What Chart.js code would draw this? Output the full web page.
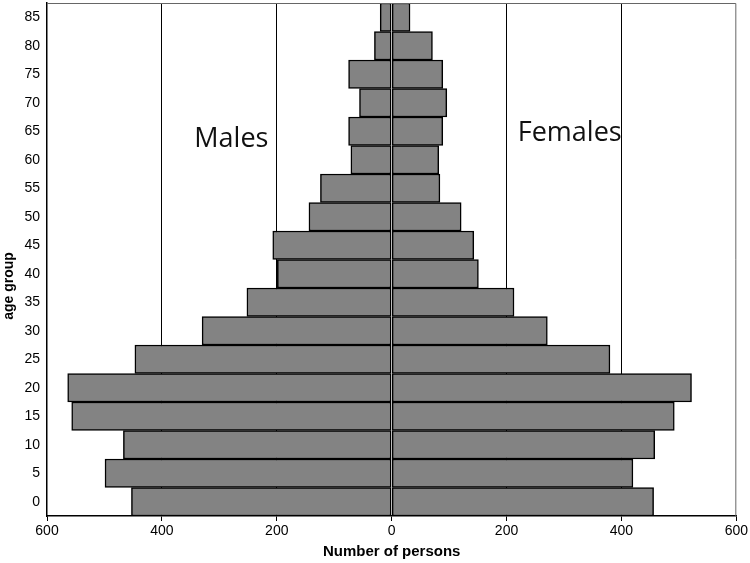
<!DOCTYPE html>
<html><head><meta charset="utf-8">
<script src="https://cdn.jsdelivr.net/npm/chart.js@4/dist/chart.umd.min.js"></script>
<style>html,body{margin:0;padding:0;background:#fff}#wrap{width:750px;height:563px;position:relative}</style>
</head><body><div id="wrap"><canvas id="c"></canvas></div>
<script>
const ageGroups = ['0','5','10','15','20','25','30','35','40','45','50','55','60','65','70','75','80','85'];
const males   = [453,499,467,557,564,447,330,252,199,207,144,124,71,75,56,75,30,20];
const females = [456,420,458,492,522,380,271,213,151,143,121,84,82,89,96,89,71,32];
const xTickValues = [-600,-400,-200,0,200,400,600];
const sideLabels = [{text:'Males', value:-279, dy:15.5},{text:'Females', value:310, dy:10}];
const yTitle = 'age group';
const xTitle = 'Number of persons';

const tickFont = {family:'"Liberation Sans", Arial, sans-serif', size:14};
const barStyle = {backgroundColor:'#838383', borderColor:'#000', borderWidth:1.5, borderSkipped:false, barPercentage:1, categoryPercentage:1};

const decor = {
  id:'decor',
  afterDatasetsDraw(chart){
    const {ctx, chartArea:a, scales:{x,y}} = chart;
    ctx.save();
    ctx.strokeStyle = '#666'; ctx.lineWidth = 1;
    ctx.beginPath();
    ctx.moveTo(a.left, a.top+0.5); ctx.lineTo(a.right-0.5, a.top+0.5); ctx.lineTo(a.right-0.5, a.bottom);
    ctx.stroke();
    ctx.fillStyle = '#111';
    ctx.font = '27px "Open Sans", sans-serif';
    ctx.textAlign = 'center'; ctx.textBaseline = 'alphabetic';
    const yc = y.getPixelForValue(ageGroups.indexOf('65'));
    sideLabels.forEach(l => ctx.fillText(l.text, x.getPixelForValue(l.value), yc + l.dy));
    ctx.font = 'bold 14px "Liberation Sans", Arial, sans-serif';
    ctx.translate(9, 286); ctx.rotate(-Math.PI/2);
    ctx.textBaseline = 'middle';
    ctx.fillStyle = '#000';
    ctx.fillText(yTitle, 0, 0);
    ctx.restore();
  }
};

new Chart(document.getElementById('c'), {
  type:'bar',
  data:{
    labels: ageGroups,
    datasets:[
      Object.assign({label:'Males', data: males.map(v => -v)}, barStyle),
      Object.assign({label:'Females', data: females}, barStyle)
    ]
  },
  options:{
    indexAxis:'y',
    responsive:true, maintainAspectRatio:false, animation:false,
    layout:{padding:{top:3, right:13, left:0, bottom:0}},
    plugins:{legend:{display:false}, tooltip:{enabled:false}, colors:{enabled:false}},
    scales:{
      x:{
        stacked:true, min:-600, max:600,
        afterBuildTicks(s){ s.ticks = xTickValues.map(v => ({value:v})); },
        afterFit(s){ s.height = 47; },
        ticks:{callback:v => Math.abs(v), color:'#000', font:tickFont, padding:2, maxRotation:0},
        grid:{
          color: c => (c.tick && [200,400].includes(Math.abs(c.tick.value))) ? '#000' : 'rgba(0,0,0,0)',
          tickColor:'#000', tickLength:5, lineWidth:1
        },
        border:{display:true, color:'#000', width:1.5},
        title:{display:true, text:xTitle, color:'#000', font:{family:'"Liberation Sans", Arial, sans-serif', size:15, weight:'bold'}, padding:{top:0,bottom:2}}
      },
      y:{
        stacked:true, reverse:true,
        afterFit(s){ s.width = 47; s.paddingTop = 0; s.paddingBottom = 0; },
        ticks:{color:'#000', font:tickFont, padding:7},
        grid:{display:false, drawTicks:false},
        border:{display:true, color:'#000', width:1.5}
      }
    }
  },
  plugins:[decor]
});
</script>
</body></html>
